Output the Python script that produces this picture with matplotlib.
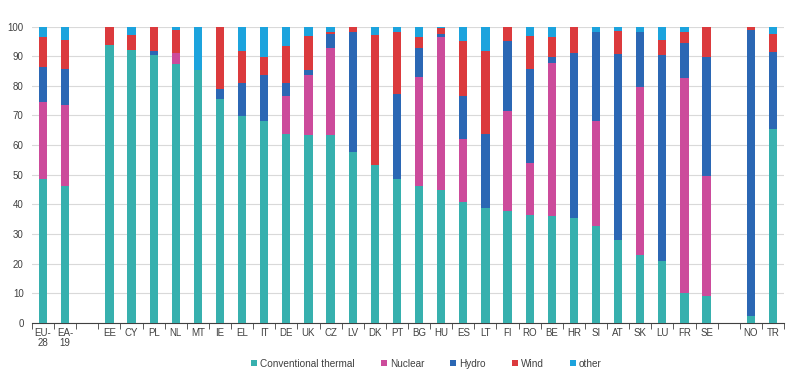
import matplotlib
matplotlib.use("Agg")
import matplotlib.pyplot as plt
import numpy as np

plt.rcParams['font.family'] = ['Liberation Sans', 'DejaVu Sans']

categories = ["EU-\n28", "EA-\n19", "", "EE", "CY", "PL", "NL", "MT", "IE", "EL", "IT",
              "DE", "UK", "CZ", "LV", "DK", "PT", "BG", "HU", "ES", "LT", "FI", "RO",
              "BE", "HR", "SI", "AT", "SK", "LU", "FR", "SE", "", "NO", "TR"]

thermal = [48.5, 46.3, 0, 93.8, 92.1, 90.3, 87.4, 85.2, 75.6, 69.7, 68.0,
           63.7, 63.3, 63.3, 57.8, 53.3, 48.7, 46.3, 44.8, 40.9, 38.7, 37.8, 36.3,
           36.2, 35.4, 32.8, 28.1, 23.0, 21.0, 10.1, 9.2, 0, 2.2, 65.5]
nuclear = [26.0, 27.3, 0, 0, 0, 0, 3.6, 0, 0, 0, 0,
           12.9, 20.4, 29.4, 0, 0, 0, 36.8, 51.5, 21.1, 0, 33.7, 17.5,
           51.4, 0, 35.2, 0, 56.6, 0, 72.5, 40.2, 0, 0, 0]
hydro = [11.8, 12.1, 0, 0, 0, 1.6, 0, 0, 3.3, 11.2, 15.5,
         4.3, 1.5, 4.7, 40.3, 0, 28.5, 9.8, 1.1, 14.7, 25.1, 23.6, 32.0,
         2.1, 55.8, 30.3, 62.7, 18.4, 69.3, 12.0, 40.3, 0, 96.5, 25.8]
wind = [10.0, 9.8, 0, 6.2, 5.0, 8.1, 7.7, 0, 21.1, 11.0, 6.2,
        12.6, 11.7, 0.6, 1.9, 44.0, 21.0, 3.5, 2.0, 18.4, 27.9, 4.6, 11.1,
        6.6, 8.5, 0, 7.7, 0, 5.2, 3.6, 10.3, 0, 1.3, 6.1]
other = [3.7, 4.5, 0, 0, 2.9, 0, 1.3, 14.8, 0, 8.1, 10.3,
         6.5, 3.1, 2.0, 0, 2.7, 1.8, 3.6, 0.6, 4.9, 8.3, 0.3, 3.1,
         3.7, 0.3, 1.7, 1.5, 2.0, 4.5, 1.8, 0, 0, 0, 2.6]

series = [("Conventional thermal", thermal, "#37b0ae"),
          ("Nuclear", nuclear, "#cc4b9b"),
          ("Hydro", hydro, "#2b67b4"),
          ("Wind", wind, "#db3a3d"),
          ("other", other, "#1ca3dd")]

fig = plt.figure(figsize=(8, 3.79), dpi=100)
ax = fig.add_axes([0.04, 0.148, 0.94, 0.782])

x = np.arange(len(categories))
bottom = np.zeros(len(categories))
for name, vals, col in series:
    v = np.array(vals, dtype=float)
    ax.bar(x, v, bottom=bottom, width=0.37, color=col, label=name, zorder=3, linewidth=0)
    bottom += v

ax.set_xlim(-0.5, len(categories) - 0.5)
ax.set_ylim(0, 100)
ax.set_yticks(np.arange(0, 101, 10))
ax.yaxis.grid(True, color="#d9d9d9", linewidth=0.8, zorder=0)
ax.set_axisbelow(True)
for s in ["left", "right", "top"]:
    ax.spines[s].set_visible(False)
ax.spines["bottom"].set_color("#404040")
ax.spines["bottom"].set_linewidth(0.8)

ax.set_xticks(x)
ax.set_xticklabels(categories, fontsize=7, color="#404040", linespacing=1.0)
ax.set_xticks(np.arange(-0.5, len(categories), 1), minor=True)
ax.tick_params(axis="x", which="major", length=0, pad=4)
ax.tick_params(axis="x", which="minor", length=4, color="#404040", direction="out")
ax.tick_params(axis="y", length=0, labelsize=7, labelcolor="#404040", pad=6)

leg = fig.legend(loc="center", bbox_to_anchor=(0.533, 0.04), ncol=5, frameon=False,
                 fontsize=7.2, handlelength=0.6, handleheight=0.6, handletextpad=0.3,
                 columnspacing=2.6, labelcolor="#404040")

fig.savefig("out.png", dpi=100)
